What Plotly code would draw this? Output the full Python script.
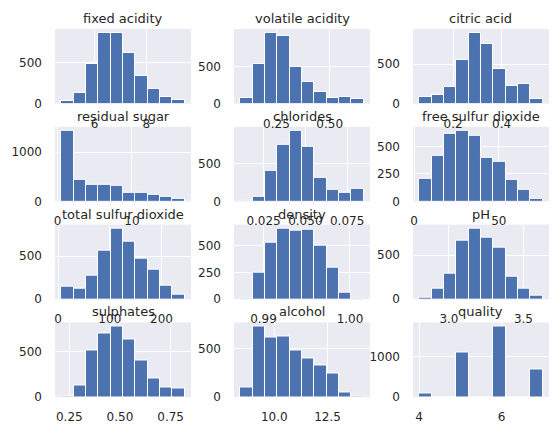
import numpy as np
import plotly.graph_objects as go
from plotly.subplots import make_subplots

# %%
# colunas do dataset (ordem do df.hist)
colunas = ['fixed acidity', 'volatile acidity', 'citric acid',
           'residual sugar', 'chlorides', 'free sulfur dioxide',
           'total sulfur dioxide', 'density', 'pH',
           'sulphates', 'alcohol', 'quality']

# contagens por bin (10 bins cada)
fixed_acidity = [33, 126, 484, 862, 862, 618, 338, 179, 81, 45]
volatile_acidity = [77, 531, 954, 914, 491, 293, 158, 72, 90, 63]
citric_acid = [81, 102, 209, 555, 901, 760, 440, 222, 248, 56]
residual_sugar = [1442, 442, 326, 340, 320, 177, 177, 136, 88, 54]
chlorides = [3, 61, 395, 750, 934, 711, 316, 158, 118, 171]
free_sulfur_dioxide = [207, 412, 619, 647, 601, 400, 363, 198, 107, 24]
total_sulfur_dioxide = [147, 124, 275, 566, 822, 671, 469, 345, 155, 54]
density = [9, 248, 531, 664, 645, 651, 500, 296, 57, 1]
ph = [19, 118, 290, 668, 805, 702, 588, 256, 118, 38]
sulphates = [2, 126, 507, 696, 781, 629, 407, 204, 104, 93]
alcohol = [97, 733, 618, 628, 483, 399, 326, 246, 45, 3]
quality = [83, 0, 0, 1108, 0, 0, 1758, 0, 0, 683]

contagens = [fixed_acidity, volatile_acidity, citric_acid,
             residual_sugar, chlorides, free_sulfur_dioxide,
             total_sulfur_dioxide, density, ph,
             sulphates, alcohol, quality]

# minimo e maximo de cada coluna
minimos = [4.7, 0.08, 0.06, 0.5, 0.011, 3, 6, 0.9873, 2.80, 0.21, 8.4, 4]
maximos = [9.5, 0.66, 0.57, 17.1, 0.085, 76, 245, 1.0016, 3.63, 0.82, 14.2, 7]

# ticks do eixo x
x_ticks = [[6, 8], [0.25, 0.5], [0.2, 0.4],
           [0, 10], [0.025, 0.05, 0.075], [0, 50],
           [0, 100, 200], [0.99, 1.0], [3.0, 3.5],
           [0.25, 0.5, 0.75], [10.0, 12.5], [4, 6]]
x_labels = [['6', '8'], ['0.25', '0.50'], ['0.2', '0.4'],
            ['0', '10'], ['0.025', '0.050', '0.075'], ['0', '50'],
            ['0', '100', '200'], ['0.99', '1.00'], ['3.0', '3.5'],
            ['0.25', '0.50', '0.75'], ['10.0', '12.5'], ['4', '6']]

# ticks do eixo y
y_ticks = [[0, 500], [0, 500], [0, 500],
           [0, 1000], [0, 500], [0, 250, 500],
           [0, 500], [0, 250, 500], [0, 500],
           [0, 500], [0, 500], [0, 1000]]

# %%
fig = make_subplots(rows=4, cols=3, subplot_titles=colunas,
                    horizontal_spacing=0.087, vertical_spacing=0.0634)

for i, nome in enumerate(colunas):
    row, col = i // 3 + 1, i % 3 + 1
    bordas = np.linspace(minimos[i], maximos[i], 11)
    largura = bordas[1] - bordas[0]
    fig.add_trace(go.Bar(x=bordas[:-1] + largura / 2, y=contagens[i], width=largura,
                         marker=dict(color='#4C72B0', line=dict(color='white', width=1)),
                         showlegend=False),
                  row=row, col=col)
    amplitude = maximos[i] - minimos[i]
    fig.update_xaxes(range=[minimos[i] - 0.05 * amplitude, maximos[i] + 0.05 * amplitude],
                     tickvals=x_ticks[i], ticktext=x_labels[i],
                     row=row, col=col)
    fig.update_yaxes(range=[0, max(contagens[i]) * 1.05], tickvals=y_ticks[i],
                     row=row, col=col)

fig.update_xaxes(showgrid=True, gridcolor='white', gridwidth=1, zeroline=False,
                 showline=False, ticklabelstandoff=11,
                 tickfont=dict(family='DejaVu Sans', size=12, color='#262626'))
fig.update_yaxes(showgrid=True, gridcolor='white', gridwidth=1, zeroline=False,
                 showline=False, ticklabelstandoff=12,
                 tickfont=dict(family='DejaVu Sans', size=12, color='#262626'))

fig.update_annotations(font=dict(family='DejaVu Sans', size=13, color='#262626'), yshift=1)

fig.update_layout(width=560, height=434, bargap=0,
                  margin=dict(l=55, r=11, t=29, b=37),
                  plot_bgcolor='#EAEAF2', paper_bgcolor='white')

# tira a margem padrao do body pra figura ficar no canto
fig.write_html('out.html', config={'displayModeBar': False},
               post_script="document.body.style.margin='0';")
